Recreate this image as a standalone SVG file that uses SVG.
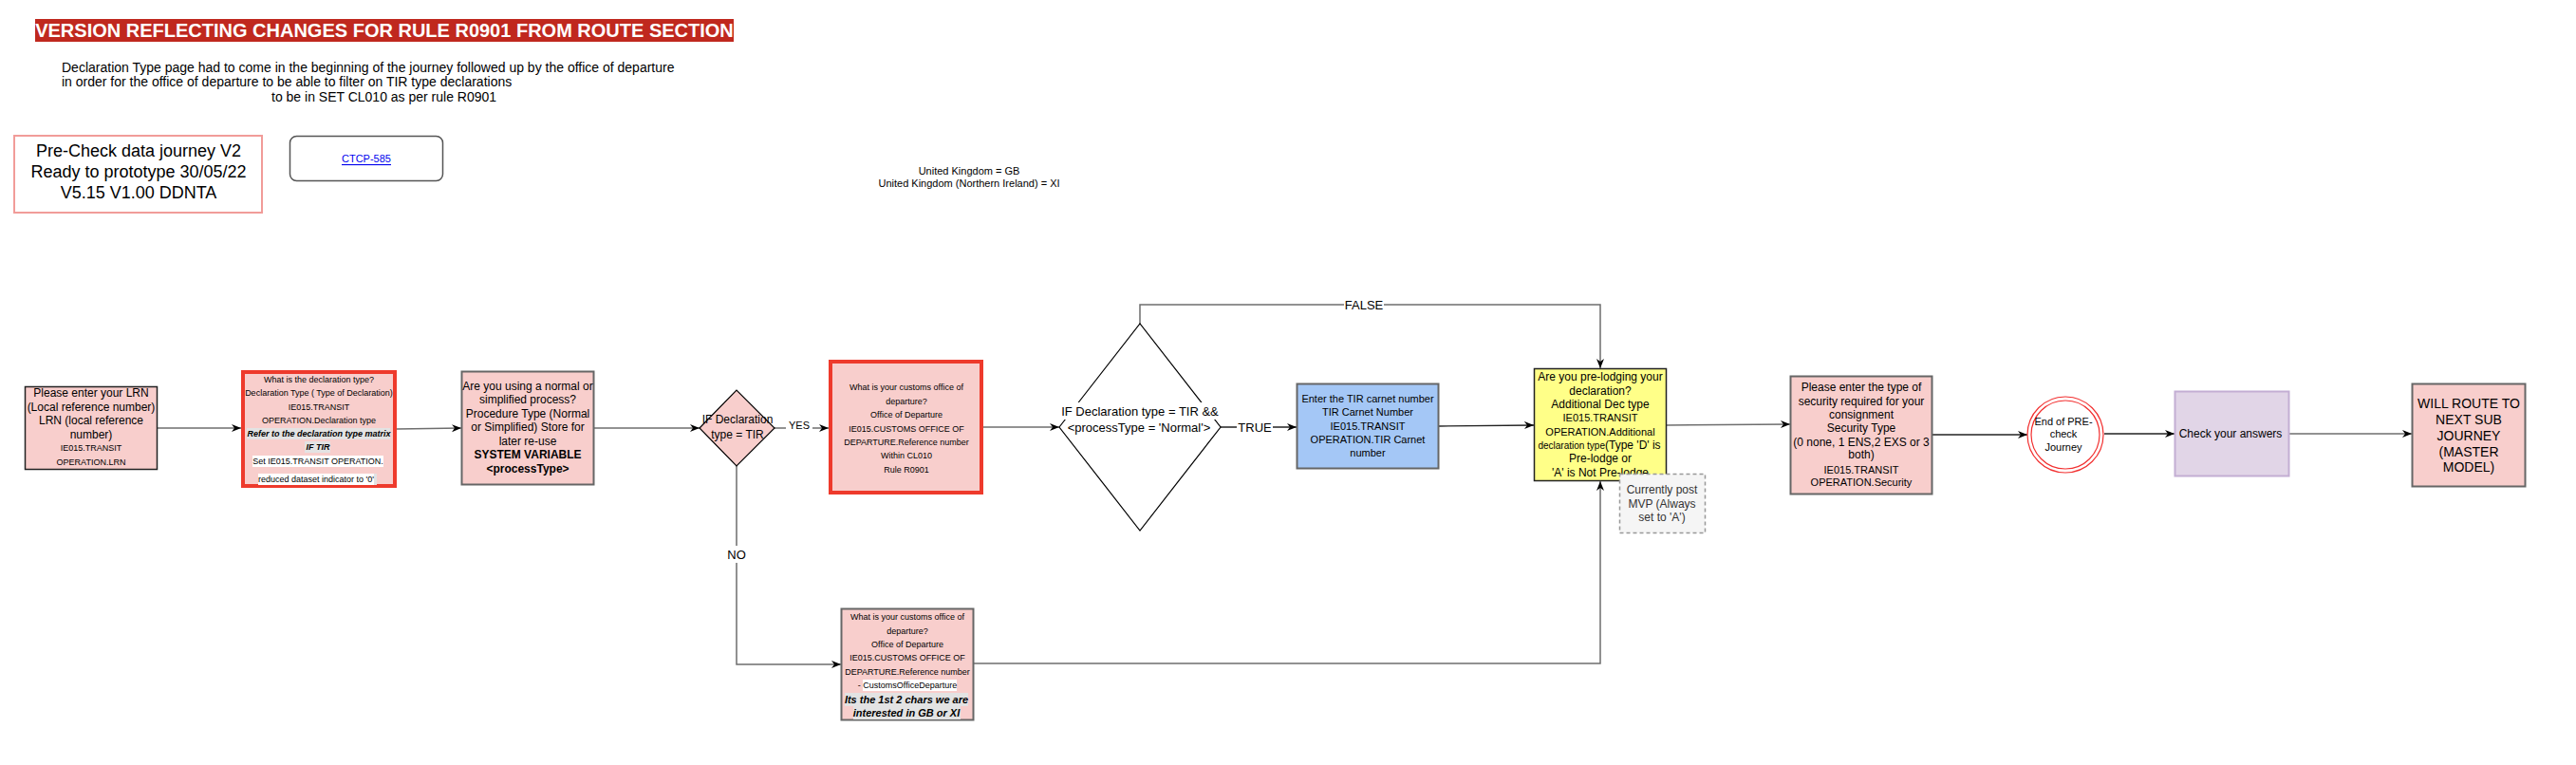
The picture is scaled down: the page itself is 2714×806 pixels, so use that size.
<svg xmlns="http://www.w3.org/2000/svg" width="2714" height="806" viewBox="0 0 2714 806">
<defs>
<marker id="arr" viewBox="0 0 10 10" refX="10" refY="5" markerWidth="10" markerHeight="10" markerUnits="userSpaceOnUse" orient="auto">
<path d="M0,1 L10,5 L0,9 L3,5 Z" fill="#000"/>
</marker>
<style>
text { font-family: "Liberation Sans", Arial, Helvetica, sans-serif; fill:#000; }
.c { text-anchor: middle; dominant-baseline: central; }
.s9 { font-size:9px; }
.s10 { font-size:10px; }
.s11 { font-size:11px; }
.s12 { font-size:12px; }
.s13 { font-size:13px; }
.s14 { font-size:14px; }
.b { font-weight:bold; }
.bi { font-weight:bold; font-style:italic; }
.edge { fill:none; stroke:#6e6e6e; stroke-width:1.5; marker-end:url(#arr); }
.edgek { fill:none; stroke:#222; stroke-width:1.3; marker-end:url(#arr); }
.line { fill:none; stroke:#6e6e6e; stroke-width:1.5; }
.pink { fill:#f8cecc; stroke:#666; stroke-width:2; }
.redbox { fill:#f8cecc; stroke:#ee3a2c; stroke-width:4; }
.wbg { fill:#fff; }
.gbg { fill:#e3e3e3; }
</style>
</defs>
<rect width="2714" height="806" fill="#fff"/>

<g id="title">
<rect x="37" y="20" width="736" height="24" fill="#c0281e"/>
<text x="405" y="32" class="c b" style="font-size:20px;fill:#fff">VERSION REFLECTING CHANGES FOR RULE R0901 FROM ROUTE SECTION</text>
</g>

<g id="description">
<text class="s14" x="65" y="71" dominant-baseline="central">Declaration Type  page had to come in the beginning of the journey followed up by the office of departure</text>
<text class="s14" x="65" y="86" dominant-baseline="central">in order for the office of departure to be able to filter on TIR type declarations</text>
<text class="s14" x="286" y="102" dominant-baseline="central">to be in SET CL010 as per rule R0901</text>
</g>

<g id="precheck">
<rect x="15" y="143" width="261" height="81" fill="#fff" stroke="#f19c99" stroke-width="2"/>
<text class="c" style="font-size:18px" x="146" y="159">Pre-Check data journey V2</text>
<text class="c" style="font-size:18px" x="146" y="181">Ready to prototype 30/05/22</text>
<text class="c" style="font-size:18px" x="146" y="203">V5.15 V1.00 DDNTA</text>
</g>

<g id="ctcp">
<rect x="305.5" y="143.5" width="161" height="47" rx="7" fill="#fff" stroke="#555" stroke-width="1.5"/>
<text class="c s11" x="386" y="167" style="fill:#0000ee;text-decoration:underline">CTCP-585</text>
</g>

<g id="uk-note">
<text class="c s11" x="1021" y="180">United Kingdom = GB</text>
<text class="c s11" x="1021" y="193">United Kingdom (Northern Ireland) = XI</text>
</g>

<g id="connectors">
<path class="edge" d="M166,451 L254,451"/>
<path class="edge" d="M418,452 L486,451"/>
<path class="edge" d="M626,451 L737,451"/>
<path class="edge" d="M816,451 L873,451"/>
<rect class="wbg" x="828" y="442" width="28" height="13"/>
<text class="c s11" x="842" y="448">YES</text>
<path class="edge" d="M776,491 L776,700 L886,700"/>
<rect class="wbg" x="762" y="575" width="28" height="18"/>
<text class="c s13" x="776" y="584">NO</text>
<path class="edge" d="M1036,450 L1116,450"/>
<path class="edgek" d="M1286,450 L1366,450"/>
<rect class="wbg" x="1303" y="442" width="38" height="16"/>
<text class="c s13" x="1322" y="450">TRUE</text>
<path class="edge" d="M1201,341 L1201,321 L1686,321 L1686,388"/>
<rect class="wbg" x="1416" y="313" width="42" height="16"/>
<text class="c s13" x="1437" y="321">FALSE</text>
<path class="edgek" d="M1516,449 L1616,448"/>
<path class="edge" d="M1026,699 L1686,699 L1686,507"/>
<path class="edge" d="M1756,448 L1886,447"/>
<path class="edgek" d="M2036,458 L2136,458"/>
<path class="edgek" d="M2217,457 L2291,457"/>
<path class="edge" d="M2412,457 L2541,457"/>
</g>

<g id="lrn">
<rect x="26.5" y="407.5" width="139" height="87" fill="#f8cecc" stroke="#222" stroke-width="1.5"/>
<text class="c s12" x="96" y="414">Please enter your LRN</text>
<text class="c s12" x="96" y="429">(Local reference number)</text>
<text class="c s12" x="96" y="443">LRN (local reference</text>
<text class="c s12" x="96" y="458">number)</text>
<text class="c s9" x="96" y="472">IE015.TRANSIT</text>
<text class="c s9" x="96" y="487">OPERATION.LRN</text>
</g>

<g id="declaration-type">
<rect class="redbox" x="256" y="392" width="160" height="120"/>
<text class="c s9" x="336" y="400">What is the declaration type?</text>
<text class="c s9" x="336" y="414">Declaration Type ( Type of Declaration)</text>
<text class="c s9" x="336" y="429">IE015.TRANSIT</text>
<text class="c s9" x="336" y="443">OPERATION.Declaration type</text>
<rect class="gbg" x="260" y="451" width="151" height="12"/>
<text class="c s9 bi" x="336" y="457">Refer to the declaration type matrix</text>
<rect class="gbg" x="321" y="465" width="27" height="12"/>
<text class="c s9 bi" x="335" y="471">IF TIR</text>
<rect class="wbg" x="266" y="480" width="138" height="12"/>
<text class="c s9" x="335" y="486">Set IE015.TRANSIT OPERATION.</text>
<rect class="wbg" x="272" y="499" width="125" height="12"/>
<rect class="gbg" x="394" y="499" width="3" height="12"/>
<text class="c s9" x="333" y="505">reduced dataset indicator to '0'</text>
</g>

<g id="process-type">
<rect class="pink" x="486.5" y="391.5" width="139" height="119"/>
<text class="c s12" x="556" y="407">Are you using a normal or</text>
<text class="c s12" x="556" y="421">simplified process?</text>
<text class="c s12" x="556" y="436">Procedure Type (Normal</text>
<text class="c s12" x="556" y="450">or Simplified) Store for</text>
<text class="c s12" x="556" y="465">later re-use</text>
<text class="c s12 b" x="556" y="479">SYSTEM VARIABLE</text>
<text class="c s12 b" x="556" y="494">&lt;processType&gt;</text>
</g>

<g id="decision-tir">
<polygon points="737,451 776,411 816,451 776,491" fill="#f8cecc" stroke="#000" stroke-width="1.2"/>
<text class="c s12" x="777" y="442">IF Declaration</text>
<text class="c s12" x="777" y="458">type = TIR</text>
</g>

<g id="office-departure-1">
<rect class="redbox" x="875" y="381" width="159" height="138"/>
<text class="c s9" x="955" y="408">What is your customs office of</text>
<text class="c s9" x="955" y="423">departure?</text>
<text class="c s9" x="955" y="437">Office of Departure</text>
<text class="c s9" x="955" y="452">IE015.CUSTOMS OFFICE OF</text>
<text class="c s9" x="955" y="466">DEPARTURE.Reference number</text>
<text class="c s9" x="955" y="480">Within CL010</text>
<text class="c s9" x="955" y="495">Rule R0901</text>
</g>

<g id="decision-tir-normal">
<polygon points="1116,450 1201,341 1286,450 1201,559" fill="#fff" stroke="#000" stroke-width="1.2"/>
<rect class="wbg" x="1117" y="424" width="168" height="18"/>
<rect class="wbg" x="1124" y="442" width="153" height="16"/>
<text class="c s13" x="1201" y="433">IF Declaration type = TIR &amp;&amp;</text>
<text class="c s13" x="1200" y="450">&lt;processType = 'Normal'&gt;</text>
</g>

<g id="tir-carnet">
<rect x="1366.5" y="404.5" width="149" height="89" fill="#a4c7f6" stroke="#666" stroke-width="2"/>
<text class="c s11" x="1441" y="420">Enter the TIR carnet number</text>
<text class="c s11" x="1441" y="434">TIR Carnet Number</text>
<text class="c s11" x="1441" y="449">IE015.TRANSIT</text>
<text class="c s11" x="1441" y="463">OPERATION.TIR Carnet</text>
<text class="c s11" x="1441" y="477">number</text>
</g>

<g id="prelodge">
<rect x="1616.5" y="388.5" width="139" height="118" fill="#ffff88" stroke="#222" stroke-width="1.5"/>
<text class="c s12" x="1686" y="397">Are you pre-lodging your</text>
<text class="c s12" x="1686" y="412">declaration?</text>
<text class="c s12" x="1686" y="426">Additional Dec type</text>
<text class="c s11" x="1686" y="440">IE015.TRANSIT</text>
<text class="c s11" x="1686" y="455">OPERATION.Additional</text>
<text class="c" x="1685" y="469"><tspan class="s10">declaration type</tspan><tspan class="s12">(Type 'D' is</tspan></text>
<text class="c s12" x="1686" y="483">Pre-lodge or</text>
<text class="c s12" x="1686" y="498">'A' is Not Pre-lodge</text>
</g>

<g id="post-mvp-note">
<rect x="1706.5" y="499.5" width="90" height="62" fill="#f5f5f5" stroke="#999" stroke-width="1.5" stroke-dasharray="4 3"/>
<text class="c s12" x="1751" y="516" style="fill:#333">Currently post</text>
<text class="c s12" x="1751" y="531" style="fill:#333">MVP (Always</text>
<text class="c s12" x="1751" y="545" style="fill:#333">set to 'A')</text>
</g>

<g id="security">
<rect class="pink" x="1886.5" y="396.5" width="149" height="124"/>
<text class="c s12" x="1961" y="408">Please enter the type of</text>
<text class="c s12" x="1961" y="423">security required for your</text>
<text class="c s12" x="1961" y="437">consignment</text>
<text class="c s12" x="1961" y="451">Security Type</text>
<text class="c s12" x="1961" y="466">(0 none, 1 ENS,2 EXS or 3</text>
<text class="c s12" x="1961" y="479">both)</text>
<text class="c s11" x="1961" y="495">IE015.TRANSIT</text>
<text class="c s11" x="1961" y="508">OPERATION.Security</text>
</g>

<g id="end-precheck">
<circle cx="2176" cy="458" r="40" fill="#fff" stroke="#f23030" stroke-width="1.2"/>
<circle cx="2176" cy="458" r="36" fill="#fff" stroke="#f23030" stroke-width="1.2"/>
<text class="c s11" x="2174" y="444">End of PRE-</text>
<text class="c s11" x="2174" y="457">check</text>
<text class="c s11" x="2174" y="471">Journey</text>
</g>

<g id="check-answers">
<rect x="2291.5" y="412.5" width="120" height="89" fill="#e1d5e7" stroke="#c3aed3" stroke-width="2"/>
<text class="c s12" x="2350" y="457">Check your answers</text>
</g>

<g id="next-sub-journey">
<rect class="pink" x="2541.5" y="404.5" width="119" height="108"/>
<text class="c s14" x="2601" y="425">WILL ROUTE TO</text>
<text class="c s14" x="2601" y="442">NEXT SUB</text>
<text class="c s14" x="2601" y="459">JOURNEY</text>
<text class="c s14" x="2601" y="476">(MASTER</text>
<text class="c s14" x="2601" y="492">MODEL)</text>
</g>

<g id="office-departure-2">
<rect class="pink" x="886.5" y="641.5" width="139" height="117"/>
<text class="c s9" x="956" y="650">What is your customs office of</text>
<text class="c s9" x="956" y="665">departure?</text>
<text class="c s9" x="956" y="679">Office of Departure</text>
<text class="c s9" x="956" y="693">IE015.CUSTOMS OFFICE OF</text>
<text class="c s9" x="956" y="708">DEPARTURE.Reference number</text>
<rect class="wbg" x="909" y="716" width="99" height="12"/>
<text class="c s9" x="956" y="722">- CustomsOfficeDeparture</text>
<rect class="gbg" x="890" y="730" width="130" height="14"/>
<rect class="gbg" x="899" y="744" width="113" height="14"/>
<text class="c s11 bi" x="955" y="737">Its the 1st 2 chars we are</text>
<text class="c s11 bi" x="955" y="751">interested in GB or XI</text>
</g>
</svg>
